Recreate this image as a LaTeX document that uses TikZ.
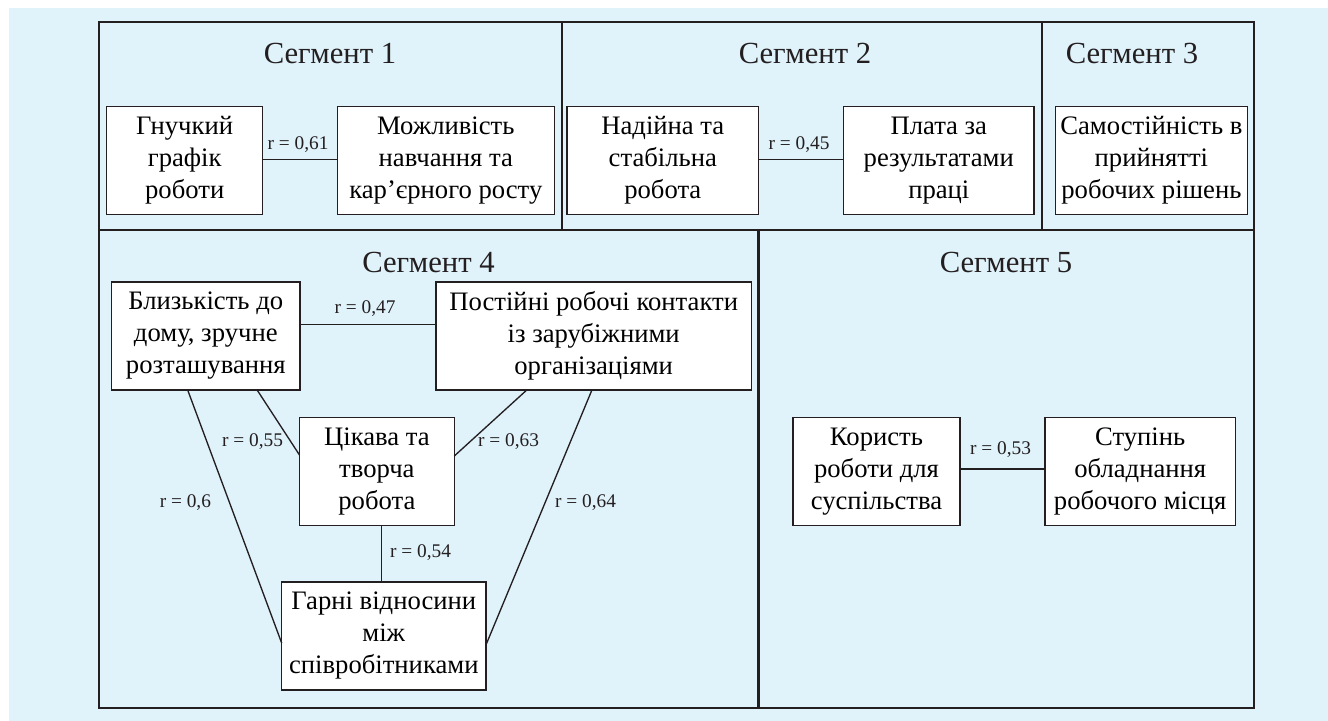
\documentclass[tikz,border=0pt]{standalone}
\usepackage{fontspec}
\setmainfont{Liberation Serif}
\usetikzlibrary{calc}
\definecolor{bgblue}{RGB}{224,242,250}
\definecolor{ink}{RGB}{35,31,32}
\begin{document}
\begin{tikzpicture}[x=0.75pt,y=-0.75pt,
  frameline/.style={draw=ink,line width=1.7pt},
  itembox/.style={draw=ink,fill=white,line width=1.1pt,inner sep=0pt,outer sep=0pt,
    minimum height=81pt,align=center,font=\fontsize{20}{24}\selectfont},
  conn/.style={draw=ink,line width=1pt},
  rlabel/.style={inner sep=0pt,font=\fontsize{14.5}{16}\selectfont,text=ink},
  segtitle/.style={inner sep=0pt,font=\fontsize{23}{26}\selectfont,text=ink}]
% background
\fill[white] (0,0) rectangle (1328,721);
\fill[bgblue] (9,8) rectangle (1328,721);
\useasboundingbox (0,0) rectangle (1328,721);
% frame and dividers
\draw[frameline] (99,22) rectangle (1254,707.7);
\draw[frameline] (99,229.7) -- (1254,229.7);
\draw[frameline] (561.7,22) -- (561.7,229.7);
\draw[frameline] (1042,22) -- (1042,229.7);
\draw[frameline] (758.5,229.7) -- (758.5,707.7);
% titles
\node[segtitle] (t1) at (330,53) {Сегмент 1};
\node[segtitle] (t2) at (805,53) {Сегмент 2};
\node[segtitle] (t3) at (1132,53) {Сегмент 3};
\node[segtitle] (t4) at (428.5,262) {Сегмент 4};
\node[segtitle] (t5) at (1006,262) {Сегмент 5};
% segment 1
\node[itembox,minimum width=117pt] (g1) at (184.7,160.3) {Гнучкий\\графік\\роботи};
\node[itembox,minimum width=162.75pt] (m1) at (445.8,160.3) {Можливість\\навчання та\\кар’єрного росту};
\draw[conn] ($(g1.east)+(0,-1)$) -- ($(m1.west)+(0,-1)$);
\node[rlabel] (l1) at (298,145) {r = 0,61};
% segment 2
\node[itembox,minimum width=143.8pt] (n2) at (662.8,160.3) {Надійна та\\стабільна\\робота};
\node[itembox,minimum width=142.8pt] (p2) at (938.8,160.3) {Плата за\\результатами\\праці};
\draw[conn] ($(n2.east)+(0,-1)$) -- ($(p2.west)+(0,-1)$);
\node[rlabel] (l2) at (799,145) {r = 0,45};
% segment 3
\node[itembox,minimum width=144pt] (s3) at (1151.4,160.3) {Самостійність в\\прийнятті\\робочих рішень};
% segment 4
\node[itembox,minimum width=141.2pt] (b4) at (205.8,335.8) {Близькість до\\дому, зручне\\розташування};
\node[itembox,minimum width=236.5pt] (k4) at (593.7,335.8) {Постійні робочі контакти\\із зарубіжними\\організаціями};
\node[itembox,minimum width=116.1pt] (c4) at (376.9,471.5) {Цікава та\\творча\\робота};
\node[itembox,minimum width=153.2pt] (h4) at (383.8,635.8) {Гарні відносини\\між\\співробітниками};
\draw[conn] ($(b4.east)+(0,-11)$) -- ($(k4.west)+(0,-11)$);
\draw[conn] ($(b4.south)+(51.2,0)$) -- ($(c4.west)+(0,-16.5)$);
\draw[conn] ($(b4.south)+(-18.2,0)$) -- ($(h4.west)+(0,7.2)$);
\draw[conn] ($(k4.south)+(-66.7,0)$) -- ($(c4.east)+(0,-15.5)$);
\draw[conn] ($(k4.south)+(-1.7,0)$) -- ($(h4.east)+(0,9.2)$);
\draw[conn] ($(c4.south)+(4.5,0)$) -- ($(c4.south |- h4.north)+(4.5,0)$);
\node[rlabel] (l47) at (365,309) {r = 0,47};
\node[rlabel] (l55) at (252.5,441.7) {r = 0,55};
\node[rlabel] (l60) at (185.4,502.7) {r = 0,6};
\node[rlabel] (l63) at (508.5,441.7) {r = 0,63};
\node[rlabel] (l64) at (585.5,502.7) {r = 0,64};
\node[rlabel] (l54) at (420.5,552.3) {r = 0,54};
% segment 5
\node[itembox,minimum width=125.25pt] (u5) at (876.5,471.7) {Користь\\роботи для\\суспільства};
\node[itembox,minimum width=142.8pt] (s5) at (1140.2,471.7) {Ступінь\\обладнання\\робочого місця};
\draw[conn] ($(u5.east)+(0,-2.7)$) -- ($(s5.west)+(0,-2.7)$);
\node[rlabel] (l53) at (1000.5,450) {r = 0,53};
\end{tikzpicture}
\end{document}
